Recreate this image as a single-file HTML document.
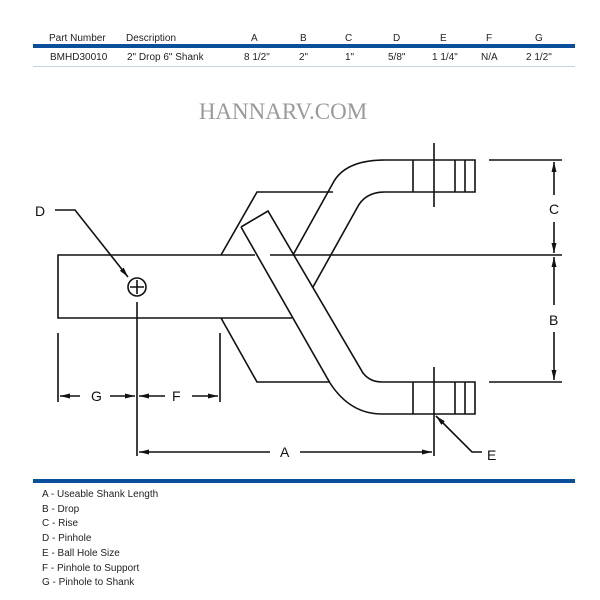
<!DOCTYPE html>
<html><head><style>
body{margin:0;background:#fff;width:600px;height:600px;overflow:hidden;position:relative;font-family:"Liberation Sans",sans-serif}
.t{position:absolute;font-size:10px;color:#222;white-space:nowrap}
</style></head><body>
<div class="t" style="left:49px;top:33px">Part Number</div>
<div class="t" style="left:126px;top:33px">Description</div>
<div class="t" style="left:251px;top:33px">A</div>
<div class="t" style="left:300px;top:33px">B</div>
<div class="t" style="left:345px;top:33px">C</div>
<div class="t" style="left:393px;top:33px">D</div>
<div class="t" style="left:440px;top:33px">E</div>
<div class="t" style="left:486px;top:33px">F</div>
<div class="t" style="left:535px;top:33px">G</div>
<div style="position:absolute;left:33px;top:44px;width:542px;height:4px;background:#0a4f9a"></div>
<div class="t" style="left:50px;top:52px">BMHD30010</div>
<div class="t" style="left:127px;top:52px">2" Drop 6" Shank</div>
<div class="t" style="left:244px;top:52px">8 1/2"</div>
<div class="t" style="left:299px;top:52px">2"</div>
<div class="t" style="left:345px;top:52px">1"</div>
<div class="t" style="left:388px;top:52px">5/8"</div>
<div class="t" style="left:432px;top:52px">1 1/4"</div>
<div class="t" style="left:481px;top:52px">N/A</div>
<div class="t" style="left:526px;top:52px">2 1/2"</div>
<div style="position:absolute;left:33px;top:66px;width:542px;height:1px;background:#c8d3e3"></div>
<div style="position:absolute;left:0;top:99px;width:566px;text-align:center;font-family:'Liberation Serif',serif;font-size:23px;color:#9a9a9a">HANNARV.COM</div>
<svg width="600" height="600" style="position:absolute;left:0;top:0" fill="none" stroke="#111" stroke-width="1.6">
<defs><marker id="ar" markerWidth="10" markerHeight="6" refX="10" refY="3" orient="auto" markerUnits="userSpaceOnUse"><path d="M0,0.5 L10,3 L0,5.5z" fill="#111" stroke="none"/></marker></defs>
<!-- shank -->
<path d="M292,318 H58 V255 H255 M270,255 H562"/>
<!-- support block -->
<path d="M221,255 L257,192 H333 M221,318 L257,382 H330"/>
<!-- upper arm -->
<path d="M385,160 Q345,160 333,183 L293,255 M385,192 Q365,192 357,208 L313,287"/>
<!-- diagonal bar -->
<path d="M241,227 L268,211 L363,373 Q370,382 382,382 M241,227 L330,383 Q350,414 382,414"/>
<!-- caps -->
<path d="M385,160 H475 V192 H385 M413,160 V192 M455,160 V192 M465,160 V192"/>
<path d="M382,382 H475 V414 H382 M413,382 V414 M455,382 V414 M465,382 V414"/>
<path d="M434,143 V207 M434,367 V456"/>
<!-- pinhole -->
<circle cx="137" cy="287" r="9"/><path d="M130,287 H144 M137,280 V294"/>
<path d="M55,210 H75 L128,277" marker-end="url(#ar)"/>
<path d="M137,302 V456"/>
<!-- G F -->
<path d="M58,333 V402 M220,333 V402"/>
<path d="M80,396 H60" marker-end="url(#ar)"/><path d="M110,396 H135" marker-end="url(#ar)"/>
<path d="M165,396 H139" marker-end="url(#ar)"/><path d="M192,396 H218" marker-end="url(#ar)"/>
<!-- A -->
<path d="M270,452 H139" marker-end="url(#ar)"/><path d="M300,452 H432" marker-end="url(#ar)"/>
<!-- right dims -->
<path d="M489,160 H562 M489,382 H562"/>
<path d="M554,195 V162" marker-end="url(#ar)"/><path d="M554,222 V253" marker-end="url(#ar)"/>
<path d="M554,305 V257" marker-end="url(#ar)"/><path d="M554,332 V380" marker-end="url(#ar)"/>
<path d="M482,452 H472 L436,416" marker-end="url(#ar)"/>
</svg>
<div class="t" style="left:35px;top:203px;font-size:14px;color:#111">D</div>
<div class="t" style="left:91px;top:388px;font-size:14px;color:#111">G</div>
<div class="t" style="left:172px;top:388px;font-size:14px;color:#111">F</div>
<div class="t" style="left:280px;top:444px;font-size:14px;color:#111">A</div>
<div class="t" style="left:549px;top:201px;font-size:14px;color:#111">C</div>
<div class="t" style="left:549px;top:312px;font-size:14px;color:#111">B</div>
<div class="t" style="left:487px;top:447px;font-size:14px;color:#111">E</div>
<div style="position:absolute;left:33px;top:479px;width:542px;height:4px;background:#0a4f9a"></div>
<div class="t" style="left:42px;top:488px;line-height:14.7px">A - Useable Shank Length<br>B - Drop<br>C - Rise<br>D - Pinhole<br>E - Ball Hole Size<br>F - Pinhole to Support<br>G - Pinhole to Shank</div>
</body></html>
